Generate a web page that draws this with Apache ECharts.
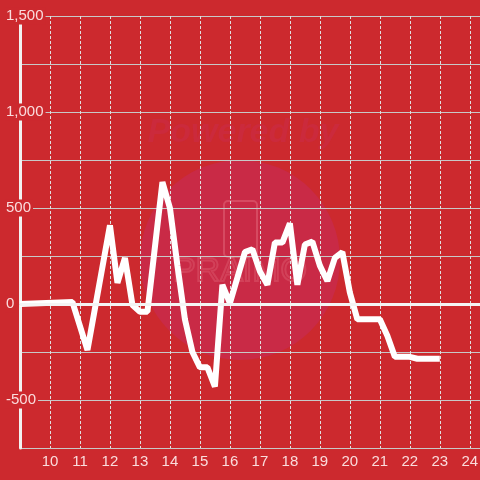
<!DOCTYPE html>
<html>
<head>
<meta charset="utf-8">
<script src="https://cdn.jsdelivr.net/npm/echarts@6/dist/echarts.min.js"></script>
<style>
  html, body { margin: 0; padding: 0; background: #cc292e; }
  #chart { width: 480px; height: 480px; }
</style>
</head>
<body>
<div id="chart"></div>
<script>
// time of day (hours) and value at each vertex
const hours = [9, 10.75, 11.25, 12, 12.25, 12.5, 12.75, 13, 13.25, 13.75, 14, 14.25, 14.5, 14.75, 15,
  15.25, 15.5, 15.75, 16, 16.5, 16.75, 17, 17.25, 17.5, 17.75, 18, 18.25, 18.5, 18.75, 19,
  19.25, 19.5, 19.75, 20, 20.25, 21, 21.25, 21.5, 22, 22.25, 23]
const values = [0, 10, -240, 410, 110, 240, -5, -40, -40, 635, 500, 200, -80, -250, -330,
  -330, -430, 100, 5, 270, 285, 170, 100, 320, 320, 420, 100, 310, 325, 200,
  120, 240, 270, 60, -80, -80, -165, -275, -275, -285, -285]
const xLabels = [10, 11, 12, 13, 14, 15, 16, 17, 18, 19, 20, 21, 22, 23, 24]
const yLabels = [-500, 0, 500, 1000, 1500]

const bg = '#cc292e'
const textColor = 'rgba(255,240,240,0.9)'

const chart = echarts.init(document.getElementById('chart'))

const option = {
  backgroundColor: bg,
  animation: false,
  textStyle: { fontFamily: 'Liberation Sans, Arial, sans-serif' },
  graphic: [
    {
      type: 'circle',
      z: -10,
      shape: { cx: 240, cy: 260, r: 100 },
      style: { fill: '#c92a46' }
    },
    {
      type: 'text',
      z: -10,
      x: 243, y: 133,
      style: {
        text: 'Powered by',
        font: 'italic bold 34px Liberation Sans, Arial, sans-serif',
        fill: '#cb2a3c',
        align: 'center',
        verticalAlign: 'middle'
      }
    },
    {
      type: 'rect',
      z: -9,
      shape: { x: 224, y: 201, width: 33, height: 56, r: 4 },
      style: { fill: 'none', stroke: 'rgba(255,170,180,0.25)', lineWidth: 2 }
    },
    {
      type: 'text',
      z: -9,
      x: 240, y: 272,
      style: {
        text: 'PRAIMO',
        font: '34px Liberation Sans, Arial, sans-serif',
        fill: 'none',
        stroke: 'rgba(255,170,180,0.18)',
        lineWidth: 2,
        align: 'center',
        verticalAlign: 'middle'
      }
    }
  ],
  grid: {
    left: 20,
    right: 0,
    top: 16,
    bottom: 32,
    containLabel: false,
    outerBoundsMode: 'none'
  },
  xAxis: {
    type: 'value',
    min: 9,
    max: 24.34,
    interval: 1,
    axisLine: { show: true, lineStyle: { color: '#cfcfcf', width: 1 } },
    axisTick: { show: false },
    axisLabel: {
      color: textColor,
      fontSize: 15,
      margin: 6,
      showMinLabel: false,
      formatter: v => (xLabels.includes(v) ? String(v) : '')
    },
    splitLine: {
      show: true,
      showMinLine: false,
      lineStyle: { color: '#e0e0e0', type: [3, 2], width: 1 }
    }
  },
  yAxis: {
    type: 'value',
    min: -750,
    max: 1500,
    interval: 250,
    axisLine: { show: true, lineStyle: { color: '#f2f2f2', width: 3 } },
    axisTick: { show: false },
    axisLabel: {
      align: 'left',
      margin: 15,
      formatter: v => (yLabels.includes(v) ? '{a|' + v.toLocaleString('en-US') + '}' : ''),
      rich: {
        a: {
          color: textColor,
          fontSize: 15,
          backgroundColor: bg,
          padding: [1, 2, 1, 1]
        }
      }
    },
    splitLine: {
      show: true,
      lineStyle: { color: '#c8c8c8', width: 1 }
    }
  },
  series: [
    {
      type: 'line',
      data: hours.map((h, i) => [h, values[i]]),
      symbol: 'none',
      smooth: false,
      lineStyle: { color: '#ffffff', width: 6 },
      markLine: {
        silent: true,
        symbol: 'none',
        label: { show: false },
        lineStyle: { color: '#f4f4f4', width: 3, type: 'solid' },
        data: [{ yAxis: 0 }]
      }
    }
  ]
}

chart.setOption(option)
</script>
</body>
</html>
